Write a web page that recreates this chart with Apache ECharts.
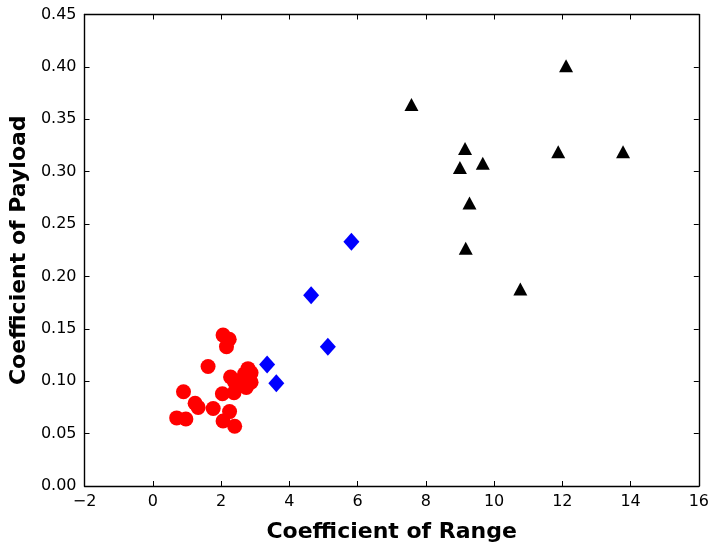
<!DOCTYPE html>
<html>
<head>
<meta charset="utf-8">
<script src="https://cdn.jsdelivr.net/npm/echarts@6/dist/echarts.min.js"></script>
<style>
  html, body { margin: 0; padding: 0; background: #fff; overflow: hidden; }
  #chart { width: 712px; height: 548px; }
</style>
</head>
<body>
<div id="chart"></div>
<script>
// --- Data ---
const redPoints = [
  [2.06, 0.144], [2.24, 0.140], [2.16, 0.133], [1.62, 0.114],
  [2.79, 0.112], [2.88, 0.108], [2.69, 0.107], [2.28, 0.104],
  [2.40, 0.099], [2.88, 0.099], [2.64, 0.102], [2.74, 0.094],
  [2.38, 0.089], [2.04, 0.088], [0.90, 0.090], [1.24, 0.079],
  [1.33, 0.075], [1.77, 0.074], [2.25, 0.071], [0.70, 0.065],
  [0.97, 0.064], [2.06, 0.062], [2.40, 0.057],
]
const bluePoints = [
  [5.82, 0.233], [4.64, 0.182], [5.13, 0.133], [3.35, 0.116], [3.62, 0.098],
]
const blackPoints = [
  [12.11, 0.401], [7.58, 0.364], [9.15, 0.322], [11.88, 0.319],
  [13.78, 0.319], [9.67, 0.308], [9.00, 0.304], [9.28, 0.270],
  [9.17, 0.227], [10.77, 0.188],
]
const xTitle = 'Coefficient of Range'
const yTitle = 'Coefficient of Payload'

const font = 'DejaVu Sans'
const chart = echarts.init(document.getElementById('chart'))

// Shared axis styling (matplotlib classic: ticks pointing inward)
const tickStyle = { show: true, inside: true, length: 5, lineStyle: { color: '#000', width: 1 } }
const lineStyle = { show: true, onZero: false, lineStyle: { color: '#000', width: 1.4 } }

const option = {
  animation: false,
  backgroundColor: '#fff',
  grid: { left: 81.5, right: 10.5, top: 14.5, bottom: 53.5, containLabel: false },
  xAxis: [
    {
      type: 'value', min: -2, max: 16, interval: 2, position: 'bottom',
      axisLine: lineStyle, axisTick: tickStyle, splitLine: { show: false },
      axisLabel: {
        color: '#000', fontFamily: font, fontSize: 16, margin: 8,
        formatter: (v) => String(v).replace('-', '\u2212'),
      },
      name: xTitle, nameLocation: 'middle', nameGap: 35,
      nameTextStyle: { color: '#000', fontFamily: font, fontSize: 22, fontWeight: 'bold' },
    },
    {
      type: 'value', min: -2, max: 16, interval: 2, position: 'top',
      axisLine: lineStyle, axisTick: tickStyle, axisLabel: { show: false }, splitLine: { show: false },
    },
  ],
  yAxis: [
    {
      type: 'value', min: 0, max: 0.45, interval: 0.05, position: 'left',
      axisLine: lineStyle, axisTick: tickStyle, splitLine: { show: false },
      axisLabel: {
        color: '#000', fontFamily: font, fontSize: 16, margin: 8,
        formatter: (v) => v.toFixed(2),
      },
      name: yTitle, nameLocation: 'middle', nameGap: 51, nameRotate: 90,
      nameTextStyle: { color: '#000', fontFamily: font, fontSize: 22, fontWeight: 'bold' },
    },
    {
      type: 'value', min: 0, max: 0.45, interval: 0.05, position: 'right',
      axisLine: lineStyle, axisTick: tickStyle, axisLabel: { show: false }, splitLine: { show: false },
    },
  ],
  series: [
    {
      type: 'scatter', data: redPoints, symbol: 'circle', symbolSize: 15,
      itemStyle: { color: '#ff0000', opacity: 1 },
    },
    {
      type: 'scatter', data: bluePoints, symbol: 'diamond', symbolSize: [16, 18],
      itemStyle: { color: '#0000ff', opacity: 1 },
    },
    {
      type: 'scatter', data: blackPoints, symbol: 'triangle', symbolSize: [14, 13],
      itemStyle: { color: '#000', opacity: 1 },
    },
  ],
}

chart.setOption(option)
window.addEventListener('resize', () => chart.resize())
</script>
</body>
</html>
